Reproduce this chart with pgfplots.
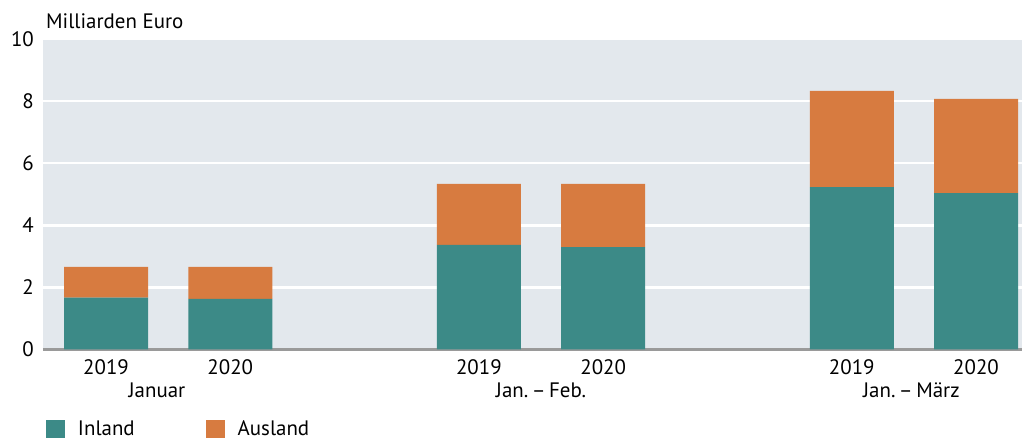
\documentclass[border=0pt]{standalone}
\usepackage{fontspec}
\setmainfont{PT Sans}
\usepackage{pgfplots}
\pgfplotsset{compat=1.18}
\definecolor{inland}{HTML}{3C8A87}
\definecolor{ausland}{HTML}{D77B40}
\definecolor{bgc}{HTML}{E3E8ED}
\definecolor{basec}{HTML}{9A9A9A}
\begin{document}
\fontsize{21}{25}\selectfont
\begin{tikzpicture}[x=1bp,y=1bp]
\useasboundingbox (-43,-91.5) rectangle (984,349.5);
\begin{axis}[
  at={(0,0)}, anchor=south west,
  scale only axis, width=979bp, height=310.5bp,
  xmin=-0.507, xmax=7.37, ymin=0, ymax=10,
  ybar stacked, bar width=84bp,
  axis background/.style={fill=bgc},
  axis line style={draw=none},
  ymajorgrids, grid style={white, line width=2.5bp},
  ytick={0,2,4,6,8,10},
  xtick={0,1,3,4,6,7},
  xticklabels={2019,2020,2019,2020,2019,2020},
  major tick length=0pt,
  tick label style={font=\fontsize{21}{25}\selectfont},
  /pgf/number format/assume math mode=true,
  yticklabel style={anchor=east, xshift=-2bp},
  xticklabel style={anchor=north, yshift=-3bp},
  clip=false,
  legend style={draw=none, fill=none, inner sep=0pt, outer sep=0pt,
    at={(axis description cs:0,0)}, anchor=north west,
    xshift=3bp, yshift=-69bp,
    font=\fontsize{21}{25}\selectfont,
    /tikz/every even column/.append style={column sep=69bp}},
  legend columns=2,
  legend cell align=left,
  legend image code/.code={\fill[#1] (0bp,-9bp) rectangle (19bp,9bp); \path (30bp,0bp);},
]
\addplot[fill=inland, draw=none] coordinates {(0,1.67) (1,1.63) (3,3.37) (4,3.30) (6,5.23) (7,5.04)};
\addplot[fill=ausland, draw=none] coordinates {(0,0.99) (1,1.03) (3,1.96) (4,2.03) (6,3.10) (7,3.03)};
\legend{Inland, Ausland}
\draw[basec, line width=3bp] (axis cs:-0.507,0) -- (axis cs:7.37,0);
\node[anchor=north] at (axis cs:0.41,0) [yshift=-26bp] {Januar};
\node[anchor=north] at (axis cs:3.5,0) [yshift=-26bp] {Jan.\,–\,Feb.};
\node[anchor=north] at (axis cs:6.48,0) [yshift=-26bp] {Jan.\,–\,März};
\node[anchor=base west, inner sep=0pt] at (axis description cs:0,1) [xshift=3bp, yshift=10bp] {Milliarden Euro};
\end{axis}
\end{tikzpicture}
\end{document}
